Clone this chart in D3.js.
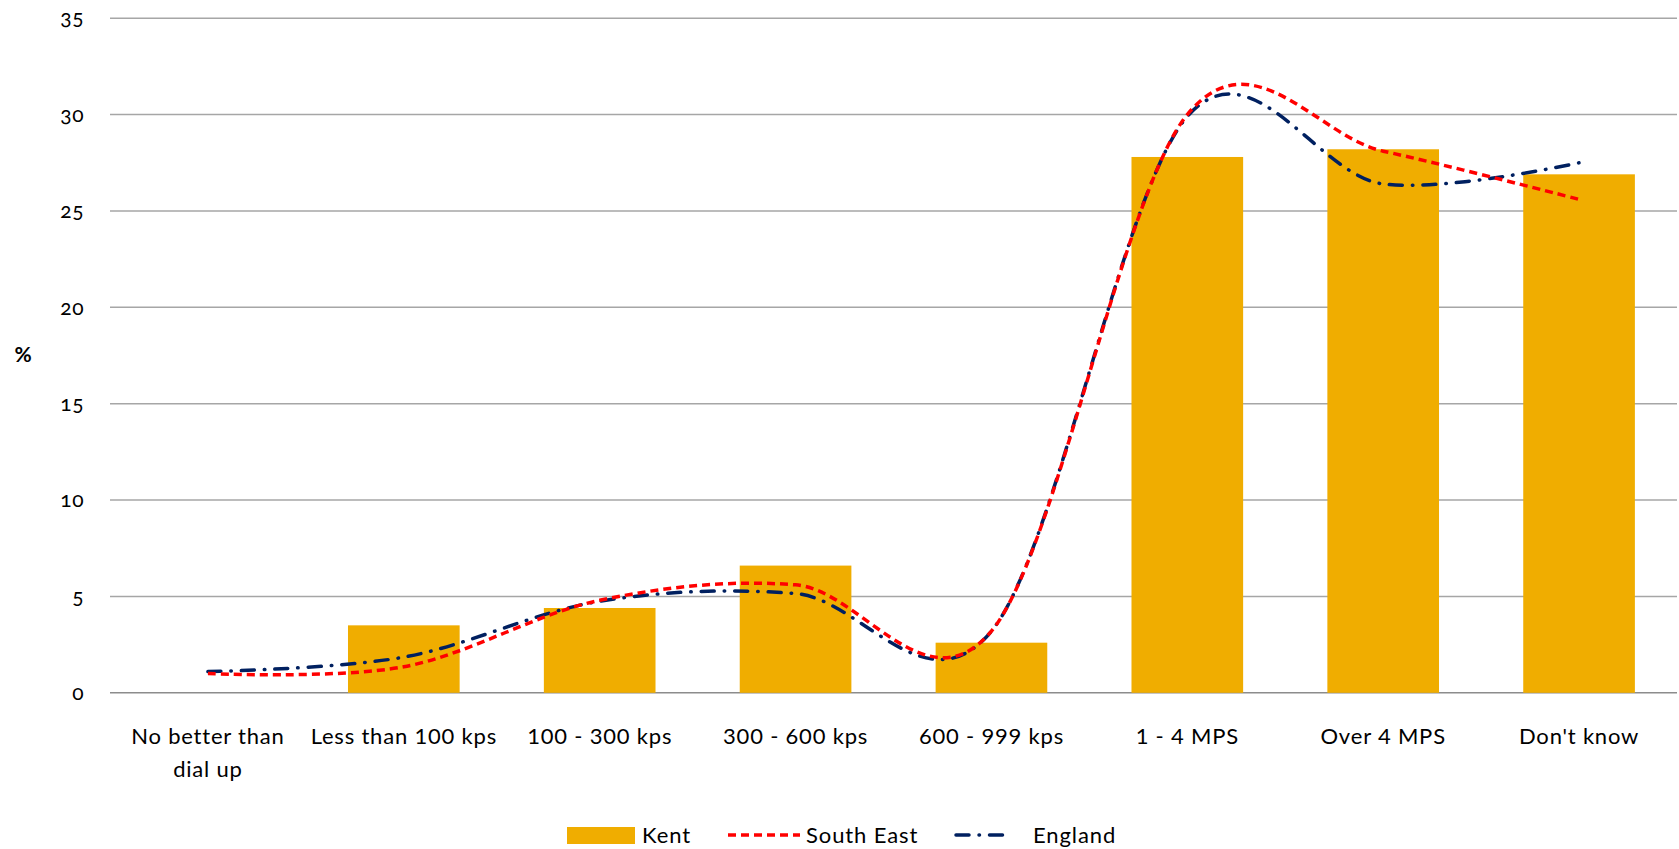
<!DOCTYPE html>
<html>
<head>
<meta charset="utf-8">
<script src="https://cdn.jsdelivr.net/npm/d3@7"></script>
<style>
  html, body { margin: 0; padding: 0; background: #ffffff; }
  svg { display: block; font-family: Lato, "Open Sans", sans-serif; }
  text { fill: #000; }
</style>
</head>
<body>
<svg id="chart" width="1679" height="849"></svg>
<script>
// ---- data ----
const categories = ["No better than dial up", "Less than 100 kps", "100 - 300 kps", "300 - 600 kps",
                    "600 - 999 kps", "1 - 4 MPS", "Over 4 MPS", "Don't know"];
const categoryLabels = ["No better than\ndial up", "Less than 100 kps", "100 - 300 kps", "300 - 600 kps",
                        "600 - 999 kps", "1 - 4 MPS", "Over 4 MPS", "Don't know"];
const kent      = [0, 3.5, 4.4, 6.6, 2.6, 27.8, 28.2, 26.9];
const southEast = [1.0, 1.35, 4.8, 5.6, 3.2, 30.0, 28.1, 25.6];
const england   = [1.1, 1.85, 4.75, 5.15, 3.2, 29.9, 26.4, 27.5];
const yTicks    = [0, 5, 10, 15, 20, 25, 30, 35];
const seriesNames = ["Kent", "South East", "England"];

// ---- layout ----
const svg = d3.select("#chart");
const plotLeft = 110, plotRight = 1677, plotTop = 18.2, plotBottom = 692.8;

const x = d3.scaleBand().domain(categories).range([plotLeft, plotRight]).paddingInner(0.43).paddingOuter(0.215);
const y = d3.scaleLinear().domain([0, 35]).range([plotBottom, plotTop]);
const cx = d => x(d) + x.bandwidth() / 2;

// gridlines
svg.append("g").selectAll("line").data(yTicks).join("line")
  .attr("x1", plotLeft).attr("x2", plotRight)
  .attr("y1", d => y(d)).attr("y2", d => y(d))
  .attr("stroke", d => d === 0 ? "#8c8c8c" : "#a6a6a6")
  .attr("stroke-width", 1.4);

// y tick labels
const yAxis = d3.axisLeft(y).tickValues(yTicks).tickSize(0).tickPadding(0);
const gy = svg.append("g").attr("transform", "translate(84,0)").call(yAxis);
gy.select(".domain").remove();
gy.selectAll("text").attr("font-size", 21).attr("font-family", "Lato, sans-serif")
  .style("letter-spacing", "0.5px")
  .style("font-variant-numeric", "oldstyle-nums").attr("fill", "#000");

// y title
svg.append("text").attr("x", 23).attr("y", 362).attr("text-anchor", "middle")
  .attr("font-size", 21).attr("font-weight", "bold").text("%");

// bars
svg.append("g").selectAll("rect").data(categories.map((c, i) => ({c, v: kent[i]}))).join("rect")
  .attr("x", d => x(d.c)).attr("width", x.bandwidth())
  .attr("y", d => y(d.v)).attr("height", d => y(0) - y(d.v))
  .attr("fill", "#f0ad00");

// lines
const line = d3.line().x((d, i) => cx(categories[i])).y(d => y(d)).curve(d3.curveCatmullRom.alpha(0));
svg.append("path").datum(england).attr("d", line).attr("fill", "none")
  .attr("stroke", "#002060").attr("stroke-width", 3.5)
  .attr("stroke-linecap", "round").attr("stroke-dasharray", "13,10,0.5,10");
svg.append("path").datum(southEast).attr("d", line).attr("fill", "none")
  .attr("stroke", "#ff0000").attr("stroke-width", 3.5)
  .attr("stroke-dasharray", "8,5");

// category labels
const gx = svg.append("g");
categories.forEach((c, i) => {
  const t = gx.append("text").attr("x", cx(c)).attr("y", 744).attr("text-anchor", "middle")
    .attr("font-size", 22).style("letter-spacing", "0.8px");
  categoryLabels[i].split("\n").forEach((ln, j) => {
    t.append("tspan").attr("x", cx(c)).attr("dy", j === 0 ? 0 : 33).text(ln);
  });
});

// legend
const lg = svg.append("g").attr("font-size", 22).style("letter-spacing", "0.9px");
lg.append("rect").attr("x", 567).attr("y", 827).attr("width", 68).attr("height", 17).attr("fill", "#f0ad00");
lg.append("text").attr("x", 642).attr("y", 843).text(seriesNames[0]);
lg.append("line").attr("x1", 728).attr("x2", 800).attr("y1", 835).attr("y2", 835)
  .attr("stroke", "#ff0000").attr("stroke-width", 3.5).attr("stroke-dasharray", "8,5");
lg.append("text").attr("x", 806).attr("y", 843).text(seriesNames[1]);
lg.append("line").attr("x1", 956).attr("x2", 1011).attr("y1", 835).attr("y2", 835)
  .attr("stroke", "#002060").attr("stroke-width", 3.5).attr("stroke-linecap", "round")
  .attr("stroke-dasharray", "13,10,0.5,10");
lg.append("text").attr("x", 1033).attr("y", 843).text(seriesNames[2]);
</script>
</body>
</html>
